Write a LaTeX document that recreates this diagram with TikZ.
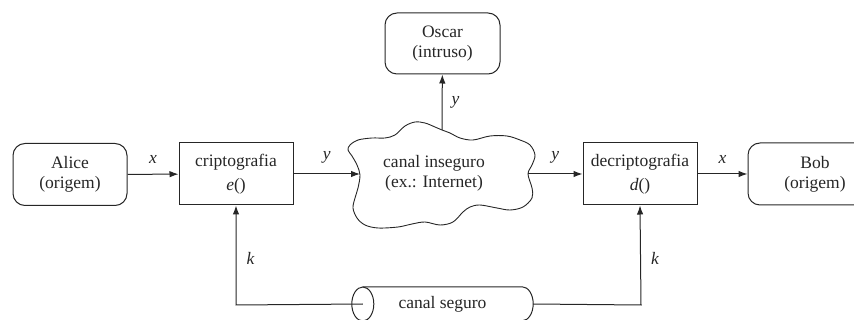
\documentclass[tikz,border=0pt]{standalone}
\usepackage{fontspec}
\setmainfont{Liberation Serif}
\usetikzlibrary{arrows.meta,calc}
\begin{document}
\begin{tikzpicture}[x=1pt,y=-1pt,
  ink/.style={draw=black!85,line width=1pt},
  txt/.style={font=\fontsize{17.5}{20}\selectfont,align=center,text=black!85},
  party/.style={ink,txt,rounded corners=12pt,minimum height=62pt,inner sep=0pt},
  process/.style={ink,txt,minimum width=114pt,minimum height=62pt,inner sep=0pt},
  flow/.style={ink,-{Latex[length=9pt,width=6.5pt]}},
  lbl/.style={font=\fontsize{17.5}{19}\selectfont\itshape,text=black!85,inner sep=0pt}]
\useasboundingbox (0,0) rectangle (854,320);

% parties and processing blocks
\node[party,minimum width=114pt] (alice) at (70,174.5) {Alice\\(origem)};
\node[process] (enc) at (236,174) {criptografia\\[4pt]\textit{e}()};
\node[process] (dec) at (640,174) {decriptografia\\[4pt]\textit{d}()};
\node[party,minimum width=134pt] (bob) at (815,174) {Bob\\(origem)};
\node[party,minimum width=115pt,minimum height=61pt] (oscar) at (442.5,43.5) {Oscar\\(intruso)};

% insecure channel drawn as a cloud
\draw[ink,line width=0.9pt] plot[smooth cycle,tension=0.55] coordinates {
  (350,145) (358,140) (372,138) (385,138) (395,135) (405,126) (415,122)
  (425,123) (435,127) (442,130) (450,133) (460,138) (473,140) (490,136)
  (507,136) (520,140) (530,145) (535,155) (532,165) (528,174) (532,188)
  (532,198) (523,207) (510,210) (497,208) (480,205) (470,207) (463,212)
  (453,222) (440,225) (425,222) (412,224) (398,227) (378,228) (365,225)
  (357,218) (353,208) (355,198) (358,188) (360,175) (357,165) (352,156)
  (348,150)};
\node[txt] (cloud) at (434,173) {canal inseguro\\(ex.: Internet)};
\coordinate (cloudW) at (360,174);
\coordinate (cloudE) at (528,174);
\coordinate (cloudN) at (442,130);

% secure channel: a horizontal cylinder, open face on the left
\node[txt,minimum width=181pt,minimum height=34pt,inner sep=0pt] (sec) at (442.5,304) {canal seguro};
\draw[ink] ($(sec.north west)+(11,0)$) -- ($(sec.north east)+(-11,0)$)
  arc[start angle=90,end angle=-90,x radius=11pt,y radius=17pt]
  -- ($(sec.south west)+(11,0)$);
\draw[ink] ($(sec.west)+(11,0)$) ellipse[x radius=11pt,y radius=17pt];
\coordinate (kl) at (236,305);
\coordinate (kr) at (641,305);

% data flow
\draw[flow] (alice) -- node[lbl,above=10pt] {x} (enc);
\draw[flow] (enc) -- node[lbl,above=10pt] {y} (cloudW);
\draw[flow] (cloudE) -- node[lbl,above=10pt] {y} (dec);
\draw[flow] (dec) -- node[lbl,above=10pt] {x} (bob);
\draw[flow] (cloudN) -- node[lbl,right=9pt] {y} (oscar);

% key distribution
\draw[flow] ($(sec.west)+(11,0)$) -- (kl) -- node[lbl,right=10pt,pos=0.47] {k} (enc.south);
\draw[flow] (sec.east) -- (kr) -- node[lbl,right=10pt,pos=0.47] {k} (dec.south);
\end{tikzpicture}
\end{document}
